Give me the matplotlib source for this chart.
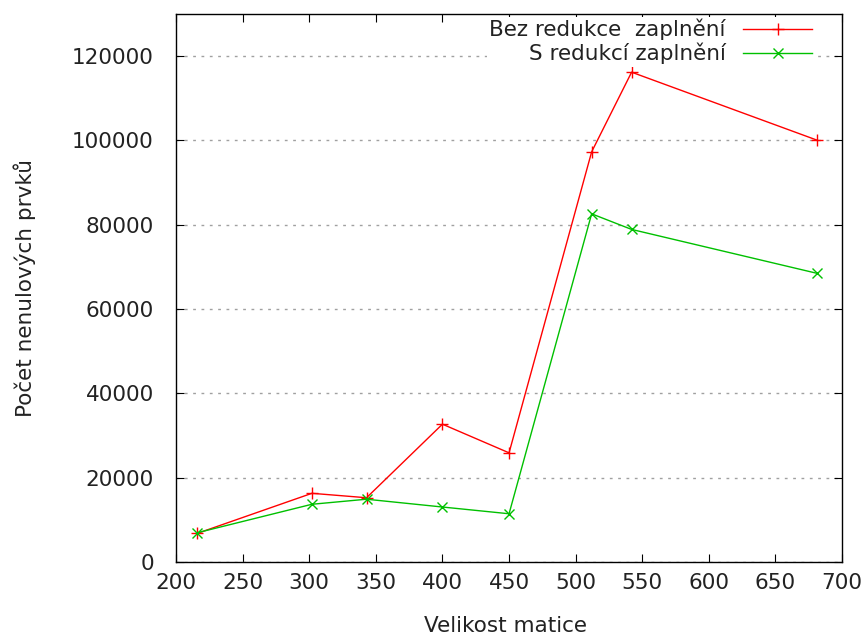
import matplotlib
matplotlib.use("Agg")
import matplotlib.pyplot as plt

# velikost matice a pocty nenulovych prvku
sizes = [216, 302, 343, 400, 450, 512, 542, 681]
bez_redukce = [6800, 16300, 15250, 32700, 25900, 97300, 116200, 100100]
s_redukci = [6950, 13700, 14900, 13050, 11450, 82600, 78900, 68500]

plt.rcParams['font.family'] = ['DejaVu Sans']
fs = 15.5
txt = '#222222'

fig = plt.figure(figsize=(8.65, 6.37), dpi=100)
ax = fig.add_axes([0.2035, 0.1177, 0.77, 0.8603])

ax.plot(sizes, bez_redukce, color='#ff0000', marker='+', markersize=9, linewidth=1,
        label='Bez redukce  zaplnění')
ax.plot(sizes, s_redukci, color='#00c000', marker='x', markersize=7, linewidth=1,
        label='S redukcí zaplnění')

ax.set_xlim(200, 700)
ax.set_ylim(0, 130000)
ax.set_xticks(range(200, 701, 50))
ax.set_yticks(range(0, 120001, 20000))
ax.yaxis.grid(True, color='#a0a0a0', linestyle=(0, (2, 4)), linewidth=1)
ax.set_axisbelow(True)
ax.tick_params(direction='in', top=True, right=True, length=6, labelsize=fs,
               labelcolor=txt)
ax.tick_params(axis='y', pad=16)
ax.tick_params(axis='x', pad=8)
for s in ax.spines.values():
    s.set_linewidth(1)

ax.set_xlabel('Velikost matice', fontsize=fs, color=txt)
ax.set_ylabel('Počet nenulových prvků', fontsize=fs, color=txt)
ax.xaxis.set_label_coords(0.494, -0.099)
ax.yaxis.set_label_coords(-0.21, 0.5)

leg = ax.legend(loc='upper right', bbox_to_anchor=(0.958, 0.995), markerfirst=False,
                fontsize=fs, frameon=True, fancybox=False, edgecolor='none',
                facecolor='white', framealpha=1, handlelength=3.2, handletextpad=0.8,
                labelspacing=0.12, borderaxespad=0, borderpad=0.1)
for t in leg.get_texts():
    t.set_color(txt)

fig.savefig('out.png', dpi=100)
